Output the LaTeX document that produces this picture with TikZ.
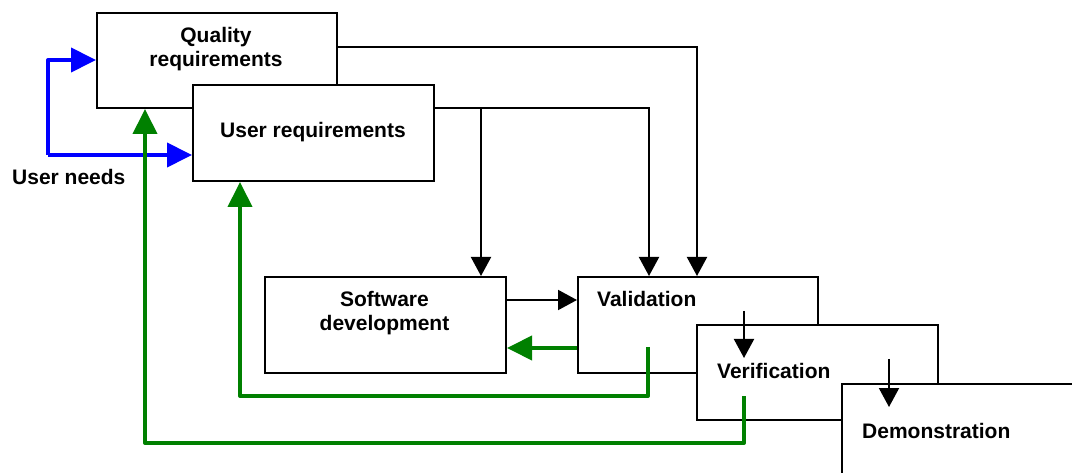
\documentclass[tikz,border=0pt]{standalone}
\usepackage{fontspec}
\setmainfont{Liberation Sans}
\usetikzlibrary{arrows.meta,calc}
\definecolor{needblue}{RGB}{0,0,255}
\definecolor{backgreen}{RGB}{0,128,0}
\begin{document}
\begin{tikzpicture}[x=1pt,y=-1pt,
  box/.style={draw=black,line width=2pt,fill=white,inner sep=0pt,anchor=north west},
  lbl/.style={inner sep=0pt,font=\fontsize{21}{24}\selectfont\bfseries,align=center},
  blk/.style={draw=black,line width=2pt,-{Triangle[length=19pt,width=20pt]}},
  grn/.style={draw=backgreen,line width=4pt,line join=round,-{Triangle[length=25pt,width=24pt]}},
  blu/.style={draw=needblue,line width=4pt,line join=round,-{Triangle[length=25pt,width=24pt]}}]
\useasboundingbox (0,0) rectangle (1072,473);

% boxes, back to front
\node[box,minimum width=240pt,minimum height=95pt] (qr) at (96,12) {};
\node[box,minimum width=241pt,minimum height=96pt] (ur) at (192,84) {};
\node[box,minimum width=241pt,minimum height=96pt] (sd) at (264,276) {};
\node[box,minimum width=240pt,minimum height=96pt] (val) at (577,276) {};
\node[box,minimum width=241pt,minimum height=95pt] (ver) at (696,324) {};
\node[box,minimum width=300pt,minimum height=150pt] (dem) at (841,383) {};

% box texts (base of a two-line text is its last line)
\node[lbl,anchor=base] (qrt) at (216,67) {Quality\\requirements};
\node[lbl,anchor=base] (urt) at (313,138) {User requirements};
\node[lbl,anchor=base] (sdt) at (384.5,330.5) {Software\\development};
\node[lbl,anchor=base west] (valt) at (597,306.5) {Validation};
\node[lbl,anchor=base west] (vert) at (717,378) {Verification};
\node[lbl,anchor=base west] (demt) at (862,438) {Demonstration};
\node[lbl,anchor=base west] (needs) at (12,185) {User needs};

% user needs feeding both requirement sets
\coordinate (nc) at (48,155);
\draw[blu] (nc) |- ([yshift=-48pt]qr.north west);
\draw[blu] (nc) -- ([yshift=-71pt]ur.north west);

% requirements flowing down
\draw[blk] ([yshift=-35pt]qr.north east) -| ([xshift=120pt]val.north west);
\coordinate (urOut) at ([yshift=-24pt]ur.north east);
\coordinate (sdIn) at ([xshift=217pt]sd.north west);
\draw[blk] (urOut) -| ([xshift=72pt]val.north west);
\draw[blk] (urOut -| sdIn) -- (sdIn);
\draw[blk] ([yshift=-24pt]sd.north east) -- ([yshift=-24pt]val.north west);
\draw[blk] ([xshift=48pt,yshift=13pt]ver.north west) -- ([xshift=48pt,yshift=-34pt]ver.north west);
\draw[blk] ([xshift=48pt,yshift=24pt]dem.north west) -- ([xshift=48pt,yshift=-24pt]dem.north west);

% feedback loops
\draw[grn] ([yshift=-72pt]val.north west) -- ([yshift=-72pt]sd.north east);
\draw[grn] ([xshift=71pt,yshift=-71pt]val.north west) -- ++(0,49) -| ([xshift=48pt]ur.south west);
\draw[grn] ([xshift=48pt,yshift=-72pt]ver.north west) -- ++(0,47) -| ([xshift=49pt]qr.south west);
\end{tikzpicture}
\end{document}
